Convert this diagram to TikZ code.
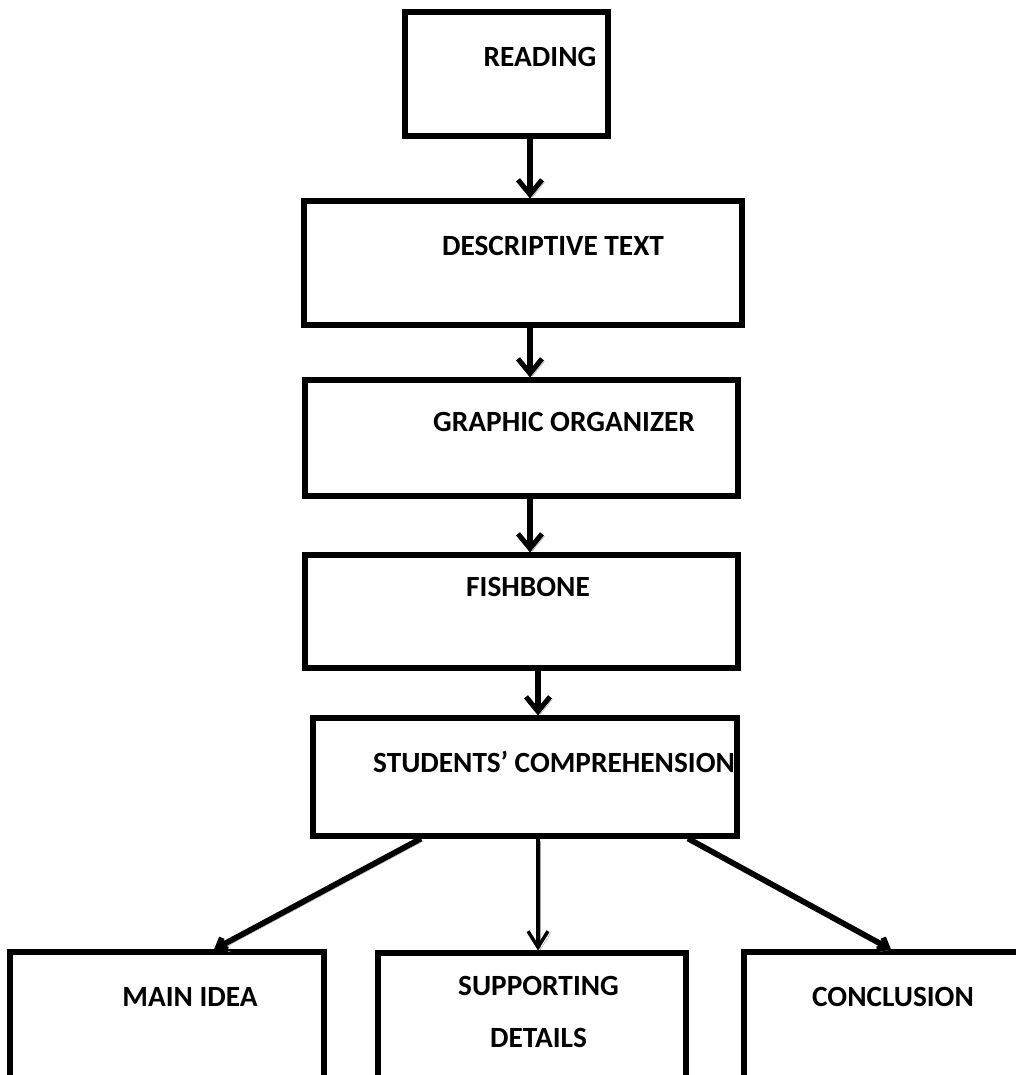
\documentclass[tikz,border=0pt]{standalone}
\usepackage{fontspec}
\setmainfont{Carlito}
\usetikzlibrary{arrows.meta}
\begin{document}
\begin{tikzpicture}[x=0.75pt,y=-0.75pt,
  box/.style={draw, line width=3.8pt, rectangle, inner sep=0pt},
  lbl/.style={font=\fontsize{22}{26}\selectfont\bfseries, align=center},
  shade/.style={preaction={draw=black!35, transform canvas={shift={(1.8pt,-1.8pt)}}}},
  arr/.style={line width=3.8pt, -{Straight Barb[length=11pt,width=18pt]}, shade},
  diag/.style={line width=4.3pt, -{Straight Barb[length=6pt,width=10pt]}, shade},
  mid/.style={line width=2.6pt, -{Straight Barb[length=12pt,width=15pt]}, shade}]
\useasboundingbox (0,0) rectangle (1016,1075);
\node[box, minimum width=152.25pt, minimum height=93pt,
  label={[lbl, shift={(33.5,-17)}]center:READING}] (read) at (506.5,74) {};
\node[box, minimum width=328.5pt, minimum height=93pt,
  label={[lbl, shift={(30,-17)}]center:DESCRIPTIVE TEXT}] (desc) at (523,263) {};
\node[box, minimum width=324.75pt, minimum height=87pt,
  label={[lbl, shift={(42.5,-16)}]center:GRAPHIC ORGANIZER}] (graph) at (521.5,438) {};
\node[box, minimum width=324.75pt, minimum height=84.75pt,
  label={[lbl, shift={(6.5,-24.5)}]center:FISHBONE}] (fish) at (521.5,611.5) {};
\node[box, minimum width=318pt, minimum height=88.5pt,
  label={[lbl, shift={(29,-15)}]center:STUDENTS’ COMPREHENSION}] (stud) at (525,777) {};
\node[box, minimum width=235.5pt, minimum height=118.5pt,
  label={[lbl, shift={(23,-34)}]center:MAIN IDEA}] (main) at (167,1031) {};
\node[box, minimum width=231pt, minimum height=117.75pt,
  label={[lbl, shift={(6.5,-20)}]center:SUPPORTING\\[13pt]DETAILS}] (supp) at (532,1031.5) {};
\node[box, minimum width=214.5pt, minimum height=118.5pt,
  label={[lbl, shift={(6,-34)}]center:CONCLUSION}] (concl) at (887,1031) {};
\coordinate (a1) at (530,0);
\coordinate (a4) at (538,0);
\coordinate (l1) at (421,0);
\coordinate (l2) at (214,0);
\coordinate (r1) at (688,0);
\coordinate (r2) at (891,0);
\draw[arr] (read.south -| a1) -- (desc.north -| a1);
\draw[arr] (desc.south -| a1) -- (graph.north -| a1);
\draw[arr] (graph.south -| a1) -- (fish.north -| a1);
\draw[arr] (fish.south -| a4) -- (stud.north -| a4);
\draw[diag] (stud.south -| l1) -- (main.north -| l2);
\draw[mid] (stud.south -| a4) -- (supp.north -| a4);
\draw[diag] (stud.south -| r1) -- (concl.north -| r2);
\end{tikzpicture}
\end{document}
